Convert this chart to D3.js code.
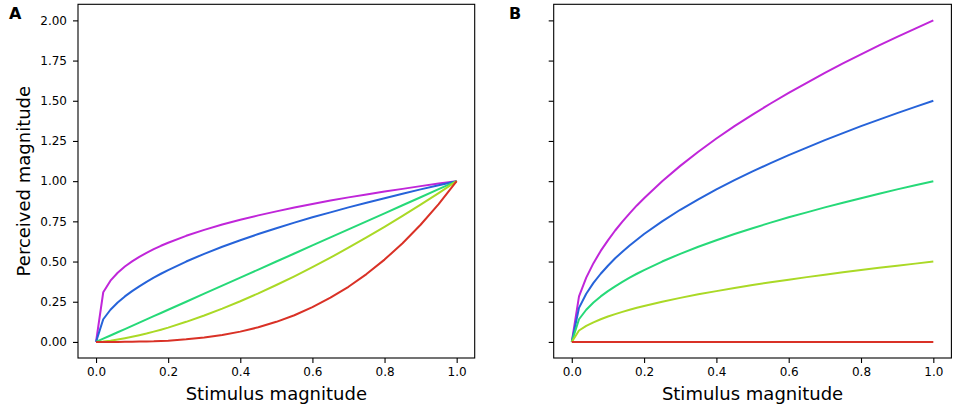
<!DOCTYPE html>
<html>
<head>
<meta charset="utf-8">
<script src="https://cdn.jsdelivr.net/npm/d3@7/dist/d3.min.js"></script>
<style>
  html, body { margin: 0; padding: 0; background: #fff; }
  svg { display: block; font-family: "DejaVu Sans", sans-serif; }
</style>
</head>
<body>
<svg id="chart" width="957" height="410"></svg>
<script>
// ---- data ----
const stimulus = [0, 0.02, 0.04, 0.06, 0.08, 0.10, 0.12, 0.14, 0.16, 0.18, 0.20, 0.25, 0.30, 0.35, 0.40, 0.45, 0.50, 0.55, 0.60, 0.65, 0.70, 0.75, 0.80, 0.85, 0.90, 0.95, 1.00];

// Panel A
const aPurple = [0, 0.309, 0.381, 0.430, 0.469, 0.501, 0.529, 0.554, 0.577, 0.598, 0.617, 0.660, 0.697, 0.730, 0.760, 0.787, 0.812, 0.836, 0.858, 0.879, 0.899, 0.917, 0.935, 0.952, 0.969, 0.985, 1.000];
const aBlue   = [0, 0.141, 0.200, 0.245, 0.283, 0.316, 0.346, 0.374, 0.400, 0.424, 0.447, 0.500, 0.548, 0.592, 0.632, 0.671, 0.707, 0.742, 0.775, 0.806, 0.837, 0.866, 0.894, 0.922, 0.949, 0.975, 1.000];
const aGreen  = [0, 0.020, 0.040, 0.060, 0.080, 0.100, 0.120, 0.140, 0.160, 0.180, 0.200, 0.250, 0.300, 0.350, 0.400, 0.450, 0.500, 0.550, 0.600, 0.650, 0.700, 0.750, 0.800, 0.850, 0.900, 0.950, 1.000];
const aLime   = [0, 0.003, 0.008, 0.015, 0.023, 0.032, 0.042, 0.052, 0.064, 0.076, 0.089, 0.125, 0.164, 0.207, 0.253, 0.302, 0.354, 0.408, 0.465, 0.524, 0.586, 0.650, 0.716, 0.784, 0.854, 0.926, 1.000];
const aRed    = [0, 0.000, 0.000, 0.000, 0.001, 0.001, 0.002, 0.003, 0.004, 0.006, 0.008, 0.016, 0.027, 0.043, 0.064, 0.091, 0.125, 0.166, 0.216, 0.275, 0.343, 0.422, 0.512, 0.614, 0.729, 0.857, 1.000];

// Panel B
const bPurple = [0, 0.283, 0.400, 0.490, 0.566, 0.632, 0.693, 0.748, 0.800, 0.849, 0.894, 1.000, 1.095, 1.183, 1.265, 1.342, 1.414, 1.483, 1.549, 1.612, 1.673, 1.732, 1.789, 1.844, 1.897, 1.949, 2.000];
const bBlue   = [0, 0.212, 0.300, 0.367, 0.424, 0.474, 0.520, 0.561, 0.600, 0.636, 0.671, 0.750, 0.822, 0.887, 0.949, 1.006, 1.061, 1.112, 1.162, 1.209, 1.255, 1.299, 1.342, 1.383, 1.423, 1.462, 1.500];
const bGreen  = [0, 0.141, 0.200, 0.245, 0.283, 0.316, 0.346, 0.374, 0.400, 0.424, 0.447, 0.500, 0.548, 0.592, 0.632, 0.671, 0.707, 0.742, 0.775, 0.806, 0.837, 0.866, 0.894, 0.922, 0.949, 0.975, 1.000];
const bLime   = [0, 0.071, 0.100, 0.122, 0.141, 0.158, 0.173, 0.187, 0.200, 0.212, 0.224, 0.250, 0.274, 0.296, 0.316, 0.335, 0.354, 0.371, 0.387, 0.403, 0.418, 0.433, 0.447, 0.461, 0.474, 0.487, 0.500];
const bRed    = [0, 0, 0, 0, 0, 0, 0, 0, 0, 0, 0, 0, 0, 0, 0, 0, 0, 0, 0, 0, 0, 0, 0, 0, 0, 0, 0];

const xTicks = [0, 0.2, 0.4, 0.6, 0.8, 1.0];
const yTicks = [0, 0.25, 0.5, 0.75, 1.0, 1.25, 1.5, 1.75, 2.0];
const seriesColors = ["#c026d9", "#2663d9", "#26d978", "#aad926", "#d93126"];
const panelLetters = ["A", "B"];
const xLabel = "Stimulus magnitude";
const yLabel = "Perceived magnitude";

// ---- drawing ----
const svg = d3.select("#chart");
const panels = [
  { letter: panelLetters[0], series: [aPurple, aBlue, aGreen, aLime, aRed], left: 78, right: 474.7, yLabels: true, letterX: 9 },
  { letter: panelLetters[1], series: [bPurple, bBlue, bGreen, bLime, bRed], left: 553.7, right: 951.4, yLabels: false, letterX: 509 }
];
const plotTop = 4.3, plotBottom = 358;

panels.forEach(p => {
  const x = d3.scaleLinear().domain([-0.05, 1.05]).range([p.left, p.right]);
  const y = d3.scaleLinear().domain([-0.1, 2.1]).range([plotBottom, plotTop]);
  const g = svg.append("g");

  // lines
  const line = d3.line().x((d, i) => x(stimulus[i])).y(d => y(d));
  p.series.forEach((s, i) => {
    g.append("path").datum(s)
      .attr("d", line)
      .attr("fill", "none")
      .attr("stroke", seriesColors[i])
      .attr("stroke-width", 2)
      .attr("stroke-linejoin", "round")
      .attr("stroke-linecap", "butt");
  });

  // x axis
  const xa = g.append("g").attr("transform", `translate(0,${plotBottom})`)
    .call(d3.axisBottom(x).tickValues(xTicks).tickFormat(d3.format(".1f")).tickSize(5).tickPadding(4));
  // y axis
  const ya = g.append("g").attr("transform", `translate(${p.left},0)`)
    .call(d3.axisLeft(y).tickValues(yTicks).tickFormat(p.yLabels ? d3.format(".2f") : () => "").tickSize(5).tickPadding(6));
  [xa, ya].forEach(a => {
    a.select(".domain").remove();
    a.selectAll(".tick line").attr("stroke", "#000").attr("stroke-width", 1.1);
    a.selectAll(".tick text").attr("fill", "#000").style("font-size", "12px").style("font-family", "DejaVu Sans");
  });

  // frame
  g.append("rect")
    .attr("x", p.left).attr("y", plotTop)
    .attr("width", p.right - p.left).attr("height", plotBottom - plotTop)
    .attr("fill", "none").attr("stroke", "#000").attr("stroke-width", 1.1);

  // x label
  g.append("text")
    .attr("x", (p.left + p.right) / 2).attr("y", 400)
    .attr("text-anchor", "middle")
    .style("font-size", "18px")
    .text(xLabel);

  // panel letter
  g.append("text")
    .attr("x", p.letterX).attr("y", 19)
    .style("font-size", "16px").style("font-weight", "bold")
    .text(p.letter);
});

// y label
svg.append("text")
  .attr("transform", `translate(30,${(plotTop + plotBottom) / 2}) rotate(-90)`)
  .attr("text-anchor", "middle")
  .style("font-size", "18px")
  .text(yLabel);
</script>
</body>
</html>
